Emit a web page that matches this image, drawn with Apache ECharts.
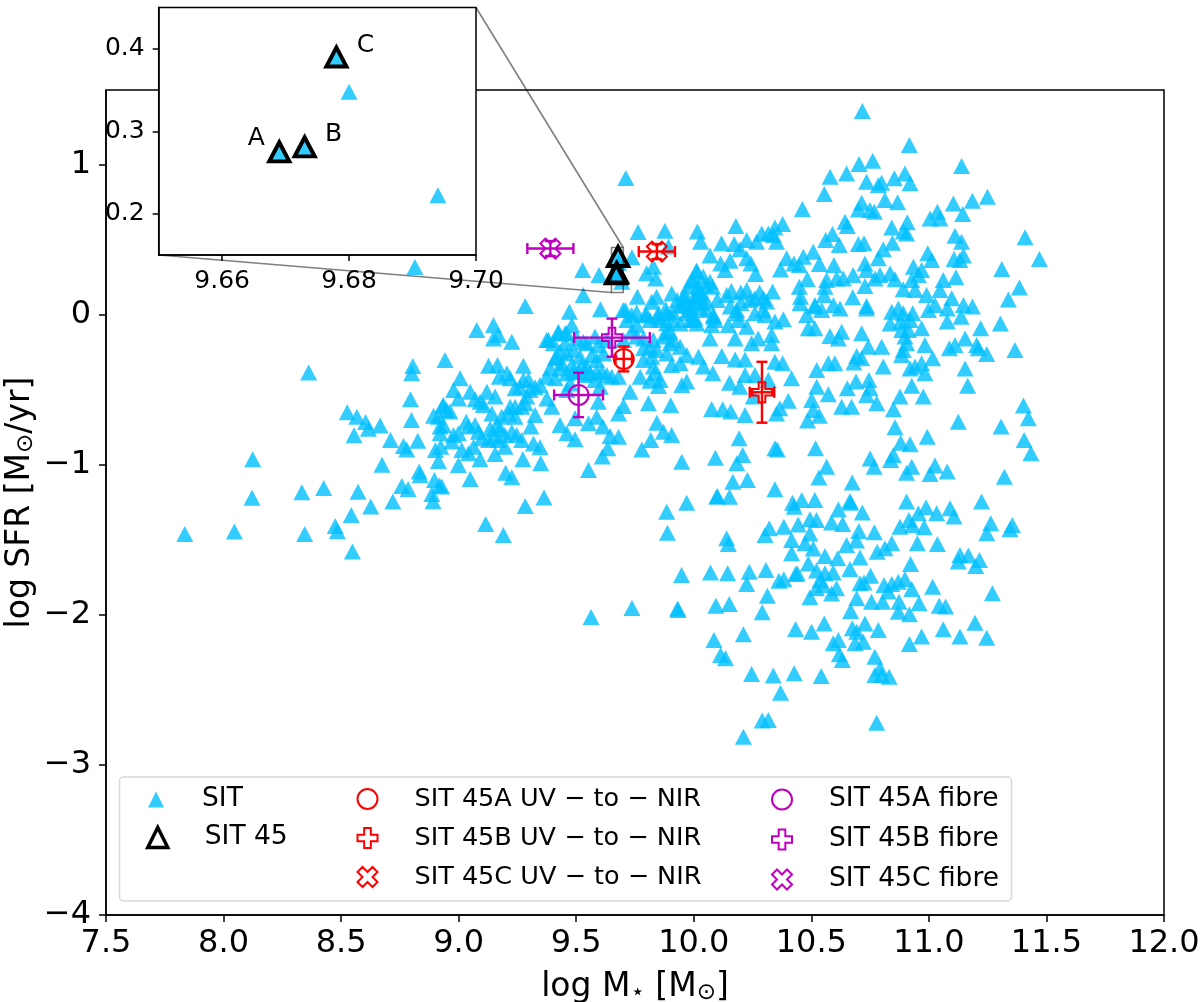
<!DOCTYPE html>
<html><head><meta charset="utf-8">
<style>html,body{margin:0;padding:0;background:#fff}#c{width:1200px;height:1002px}</style>
<script src="https://cdn.jsdelivr.net/npm/echarts@6/dist/echarts.min.js"></script>
</head><body><div id="c"></div>
<script>
const sitLowMass=[[7.835,-1.46],[8.046,-1.444],[8.124,-0.962],[8.121,-1.218],[8.362,-0.384],[8.333,-1.182],[8.426,-1.153],[8.345,-1.46],[8.572,-1.178],[8.626,-1.276],[8.543,-1.333],[8.475,-1.407],[8.484,-1.442],[8.548,-1.576],[8.72,-1.244],[8.674,-0.998],[8.758,-1.14],[8.785,-1.16],[8.832,-1.044],[8.836,-1.069],[8.897,-1.1],[8.918,-1.136],[8.886,-1.193],[8.891,-1.242],[8.526,-0.649],[8.567,-0.678],[8.604,-0.713],[8.616,-0.758],[8.666,-0.736],[8.555,-0.802],[8.71,-0.833],[8.765,-0.873],[8.779,-0.896],[8.826,-0.838],[8.805,-0.34],[8.8,-0.389],[8.795,-0.562],[8.799,-0.7],[8.914,-0.973],[8.901,-0.9],[8.924,-0.878],[8.921,-0.744],[8.921,-0.789],[8.914,-0.678],[8.932,-0.607],[8.893,-0.671],[8.971,-0.844],[9.013,-0.9],[8.814,0.32]];
const sitMidMass=[[9.283,0.06],[9.471,0.022],[9.603,0.038],[9.709,0.033],[9.757,0.016],[9.793,0],[9.85,0.011],[9.949,0.06],[9.077,-0.1],[9.148,-0.067],[9.169,-0.133],[9.148,-0.156],[9.226,-0.178],[8.942,-0.3],[9.127,-0.338],[9.165,-0.333],[9.205,-0.389],[9.173,-0.411],[9.219,-0.422],[9.275,-0.338],[9.006,-0.422],[8.978,-0.5],[9.049,-0.511],[8.999,-0.556],[9.12,-0.511],[9.155,-0.544],[9.07,-0.562],[9.105,-0.6],[8.935,-0.6],[8.963,-0.644],[9.219,-0.611],[9.141,-0.656],[9.261,-0.478],[9.297,-0.433],[9.325,-0.482],[9.29,-0.544],[9.268,-0.611],[9.24,-0.678],[9.325,-0.667],[9.307,-0.744],[9.032,-0.711],[9.07,-0.733],[9.162,-0.733],[9.176,-0.756],[8.935,-0.733],[8.978,-0.8],[8.999,-0.789],[9.098,-0.822],[9.063,-0.878],[9.148,-0.811],[9.197,-0.8],[9.247,-0.8],[9.268,-0.833],[9.318,-0.856],[9.346,-0.882],[9.197,-0.878],[9.155,-0.927],[9.042,-0.922],[9.091,-0.962],[8.999,-1],[9.273,-0.962],[9.349,-0.989],[9.2,-1.051],[9.226,-1.082],[9.049,-1.093],[9.363,-1.216],[9.283,-1.273],[9.115,-1.393],[9.19,-1.467],[8.928,-1.144],[9.424,-0.122],[9.382,-0.167],[9.453,-0.122],[9.481,-0.067],[9.502,-0.156],[9.53,-0.178],[9.431,-0.244],[9.488,-0.233],[9.41,-0.289],[9.389,-0.356],[9.438,-0.322],[9.481,-0.333],[9.524,-0.333],[9.375,-0.411],[9.41,-0.422],[9.46,-0.389],[9.509,-0.378],[9.559,-0.389],[9.587,-0.3],[9.609,-0.378],[9.651,-0.411],[9.594,-0.2],[9.63,-0.167],[9.58,-0.433],[9.602,-0.478],[9.474,-0.456],[9.375,-0.556],[9.396,-0.611],[9.46,-0.5],[9.594,-0.578],[9.431,-0.733],[9.495,-0.689],[9.46,-0.789],[9.495,-0.829],[9.552,-0.722],[9.587,-0.678],[9.613,-0.744],[9.644,-0.807],[9.68,-0.811],[9.634,-0.889],[9.611,-0.944],[9.552,-1.033],[9.68,-0.656],[9.701,-0.607],[9.729,-0.511],[9.779,-0.896],[9.817,-0.833],[9.807,-0.589],[9.843,-0.718],[9.871,-0.778],[9.906,-0.8],[9.902,-0.602],[9.949,-0.978],[10.092,-0.951],[10.076,-0.627],[10.123,-0.629],[10.157,-0.644],[10.152,-0.451],[10.119,-0.273],[10.176,-0.296],[10.081,-0.389],[10.041,-0.344],[9.97,-0.444],[9.949,-0.467],[9.85,-0.473],[9.814,-0.438],[9.835,-0.389],[9.772,-0.411],[9.906,-0.333],[9.942,-0.322],[9.821,-0.278],[9.814,-0.211],[9.786,-0.222],[9.899,-0.189],[9.885,-0.122],[9.942,-0.211],[9.97,-0.267],[10.02,-0.278],[10.069,-0.156],[9.996,-0.033],[9.97,0.011],[9.942,-0.056],[10.091,-0.033],[10.147,-0.067],[10.176,-0.156],[10.166,-1.111],[10.098,-1.211],[10.152,-1.211],[9.97,-1.251],[9.885,-1.311],[9.888,-1.451],[10.14,-1.489],[10.183,-0.989],[10.193,-0.822],[9.814,-0.033],[9.757,-0.067],[9.715,-0.033],[9.736,-0.111],[9.374,-0.166],[9.424,-0.111],[9.459,-0.122],[9.7,0.033],[9.736,0],[9.8,0],[9.849,-0.011],[9.885,-0.055],[9.899,-0.111],[9.527,0.3],[9.597,0.267],[9.737,0.385],[9.53,0.133],[9.76,0.122],[9.711,0.913],[9.763,0.553],[9.563,-2.013],[9.737,-1.953],[9.933,-1.967],[9.669,0.275],[9.673,0.281],[9.678,0.39],[9.68,0.348],[9.694,0.2225]];
const sitCore=[[9.183,-0.678],[9.212,-0.656],[9.24,-0.611],[9.283,-0.589],[9.304,-0.5],[9.24,-0.489],[9.275,-0.433],[9.346,-0.467],[9.091,-0.578],[8.949,-0.633],[9.042,-0.744],[9.084,-0.778],[9.134,-0.756],[9.169,-0.833],[9.226,-0.778],[9.127,-0.833],[9.403,-0.189],[9.453,-0.189],[9.417,-0.278],[9.46,-0.256],[9.516,-0.278],[9.545,-0.344],[9.431,-0.356],[9.488,-0.378],[9.538,-0.4],[9.587,-0.378],[9.63,-0.4],[9.68,-0.411],[9.566,-0.267],[9.616,-0.256],[9.545,-0.189],[9.58,-0.144],[9.701,-0.167],[9.757,-0.144],[9.786,-0.156],[9.828,-0.167],[9.871,-0.144],[9.913,-0.167],[9.857,-0.033],[9.885,0.011],[9.913,-0.033],[9.984,0.033],[10.027,0.044],[10.055,0.033],[10.084,-0.011],[10.155,0.056],[10.183,0.011],[9.984,-0.033],[10.013,-0.056],[9.786,-0.3],[9.843,-0.233],[9.885,-0.256],[9.828,-0.344],[9.857,-0.433],[9.941,0.067],[9.984,0.056],[10.026,0.078],[9.963,0.134],[10.012,0.122],[10.005,-0.022],[10.083,0],[10.076,-0.066],[10.182,0.034],[10.19,-0.033],[10.012,0.289],[9.991,0.233],[10.04,0.256],[10.019,0.189],[9.955,0.12],[9.975,0.19],[10.03,0.15],[10.05,0.2],[10,0.1],[9.93,0.1],[10.1,0.1],[10.16,0.16],[10.2,0.15],[10.28,0.15],[10.31,0.09],[10.2,0.08],[9.88,0.04],[9.91,0.02]];
const sitUpper=[[10.717,1.36],[10.703,1.007],[10.761,1.029],[10.58,0.922],[10.65,0.944],[10.735,0.889],[10.785,0.867],[10.555,0.807],[10.462,0.707],[10.714,0.749],[10.7,0.704],[10.749,0.7],[10.768,0.689],[10.643,0.622],[10.653,0.593],[10.378,0.607],[10.345,0.584],[10.317,0.544],[10.289,0.544],[10.338,0.533],[10.179,0.593],[10.015,0.556],[10.029,0.489],[9.877,0.562],[10.118,0.478],[10.172,0.473],[10.225,0.5],[10.196,0.438],[10.267,0.489],[10.352,0.489],[10.561,0.5],[10.59,0.54],[10.619,0.467],[10.7,0.473],[10.724,0.478],[10.508,0.422],[10.466,0.389],[10.395,0.378],[10.369,0.304],[10.426,0.344],[10.449,0.333],[10.534,0.34],[10.596,0.333],[10.678,0.267],[10.728,0.344],[10.735,0.3],[10.785,0.378],[10.771,0.244],[10.728,0.193],[10.636,0.244],[10.608,0.244],[10.565,0.233],[10.483,0.238],[10.449,0.189],[10.454,0.122],[10.558,0.189],[10.554,0.133],[10.676,0.118],[10.594,0.067],[10.735,0.06],[10.515,0.067],[10.335,0.156],[10.296,0.111],[10.26,0.111],[10.225,0.167],[10.239,0.1],[10.14,0.133],[10.069,0.396],[10.114,0.344],[10.154,0.362],[10.133,0.3],[10.225,0.378],[10.243,0.344],[10.263,0.273],[10.012,0.296],[9.998,0.229],[10.069,0.222],[10.08,0.189],[9.906,0.144],[9.842,0.122],[9.821,0.089],[9.799,0.278],[9.838,0.244],[9.828,0.322],[9.892,0.456],[10.019,0.167],[10.026,0.122],[9.969,0.089],[10.055,0.089],[10.917,1.133],[10.898,0.944],[10.92,0.878],[11.139,0.993],[10.799,0.882],[10.853,0.911],[11.104,0.744],[11.185,0.762],[11.249,0.789],[11.144,0.673],[11.036,0.689],[11.005,0.644],[11.047,0.644],[10.813,0.767],[10.867,0.751],[10.908,0.618],[10.842,0.584],[10.891,0.556],[10.905,0.544],[10.845,0.482],[11.111,0.529],[11.139,0.489],[11.409,0.518],[10.995,0.411],[11.012,0.367],[11.147,0.396],[11.107,0.373],[11.132,0.367],[11.47,0.373],[11.31,0.307],[11.385,0.184],[11.338,0.104],[10.806,0.438],[10.792,0.267],[10.835,0.278],[10.856,0.238],[10.891,0.171],[10.934,0.322],[10.969,0.3],[10.955,0.267],[10.927,0.233],[10.941,0.167],[11.061,0.233],[11.115,0.251],[11.047,0.167],[10.99,0.133],[11.097,0.111]];
const sitRight=[[10.735,0.044],[10.842,0.022],[10.87,0.044],[10.891,0.011],[10.931,0.011],[10.998,0.033],[11.026,0.067],[11.078,0.044],[11.147,0.067],[11.185,0.056],[11.137,-0.011],[11.078,-0.044],[10.835,-0.056],[10.88,-0.044],[10.92,-0.033],[10.884,-0.1],[10.913,-0.1],[10.969,-0.089],[11.22,-0.089],[11.304,-0.056],[10.714,-0.122],[10.898,-0.144],[10.905,-0.189],[10.983,-0.2],[11.154,-0.156],[11.111,-0.2],[11.087,-0.222],[11.203,-0.2],[11.246,-0.26],[11.21,-0.222],[11.366,-0.233],[10.742,-0.211],[10.799,-0.211],[10.884,-0.267],[10.891,-0.233],[11.016,-0.289],[10.714,-0.289],[10.806,-0.344],[10.969,-0.322],[10.941,-0.344],[10.92,-0.356],[10.983,-0.389],[11.154,-0.356],[11.165,-0.471],[10.927,-0.471],[10.745,-0.433],[10.75,-0.489],[10.735,-0.533],[10.976,-0.544],[10.877,-0.544],[10.778,-0.589],[10.849,-0.629],[11.402,-0.604],[11.423,-0.689],[11.125,-0.711],[11.307,-0.744],[10.856,-0.749],[10.993,-0.811],[10.88,-0.851],[10.92,-0.862],[11.405,-0.833],[11.434,-0.922],[10.75,-0.956],[10.767,-1.011],[10.849,-0.933],[10.837,-0.967],[10.927,-1.011],[10.905,-1.051],[11.026,-1.004],[11.005,-1.06],[11.078,-1.044],[11.321,-1.078],[10.296,0.033],[10.26,0.011],[10.303,0],[10.345,-0.044],[10.381,-0.029],[10.452,0.078],[10.515,0.056],[10.622,0.044],[10.48,0],[10.544,0.033],[10.487,-0.089],[10.515,-0.089],[10.225,-0.078],[10.246,-0.189],[10.331,-0.133],[10.331,-0.189],[10.274,-0.156],[10.579,-0.14],[10.615,-0.156],[10.629,-0.111],[10.693,-0.273],[10.681,-0.316],[10.572,-0.322],[10.6,-0.322],[10.523,-0.367],[10.218,-0.296],[10.345,-0.311],[10.378,-0.322],[10.218,-0.4],[10.26,-0.4],[10.317,-0.433],[10.416,-0.422],[10.196,-0.478],[10.523,-0.478],[10.501,-0.567],[10.572,-0.529],[10.402,-0.571],[10.366,-0.622],[10.352,-0.656],[10.253,-0.544],[10.218,-0.667],[10.534,-0.671],[10.508,-0.633],[10.484,-0.704],[10.629,-0.611],[10.671,-0.611],[10.653,-0.489],[10.69,-0.444],[10.345,-0.889],[10.355,-0.896],[10.518,-0.889],[10.208,-0.933],[10.565,-1.011],[10.532,-1.084],[10.674,-1.116],[10.228,-1.1],[10.345,-1.162]];
const sitQuenched=[[10.1,-1.207],[10.42,-1.251],[10.459,-1.233],[10.427,-1.278],[10.515,-1.233],[10.667,-1.251],[10.664,-1.24],[10.615,-1.296],[10.717,-1.316],[10.303,-1.467],[10.321,-1.422],[10.383,-1.411],[10.444,-1.396],[10.494,-1.362],[10.522,-1.367],[10.586,-1.384],[10.633,-1.393],[10.768,-1.449],[10.702,-1.44],[10.692,-1.504],[10.494,-1.456],[10.473,-1.522],[10.416,-1.5],[10.416,-1.589],[10.147,-1.527],[10.65,-1.533],[10.508,-1.556],[10.558,-1.607],[10.612,-1.622],[10.78,-1.578],[10.707,-1.616],[10.487,-1.656],[9.948,-1.733],[10.071,-1.716],[10.144,-1.722],[10.236,-1.711],[10.307,-1.7],[10.225,-1.793],[10.362,-1.771],[10.383,-1.762],[10.433,-1.727],[10.44,-1.722],[10.522,-1.704],[10.558,-1.722],[10.593,-1.716],[10.664,-1.693],[10.752,-1.738],[10.707,-1.789],[10.724,-1.784],[10.537,-1.767],[10.551,-1.8],[10.607,-1.822],[10.522,-1.822],[10.586,-1.856],[10.494,-1.882],[10.313,-1.871],[10.693,-1.889],[10.756,-1.911],[10.667,-1.973],[10.291,-1.982],[10.094,-1.938],[10.151,-1.927],[9.931,-1.956],[10.728,-2.056],[10.785,-2.1],[10.555,-2.056],[10.674,-2.089],[10.693,-2.111],[10.433,-2.093],[10.501,-2.111],[10.211,-2.129],[10.086,-2.167],[10.114,-2.267],[10.135,-2.289],[10.593,-2.189],[10.615,-2.167],[10.721,-2.178],[10.686,-2.189],[10.619,-2.262],[10.632,-2.3],[10.77,-2.278],[10.792,-2.356],[10.77,-2.4],[10.799,-2.4],[10.831,-2.411],[10.246,-2.393],[10.338,-2.404],[10.427,-2.389],[10.542,-2.407],[10.369,-2.518],[10.291,-2.704],[10.317,-2.7],[10.211,-2.811],[10.778,-2.718],[10.905,-1.244],[10.955,-1.322],[10.988,-1.282],[11.033,-1.322],[11.09,-1.289],[11.107,-1.344],[11.224,-1.244],[11.263,-1.389],[11.246,-1.455],[11.355,-1.4],[11.345,-1.429],[10.915,-1.367],[10.877,-1.411],[10.93,-1.4],[10.98,-1.415],[10.951,-1.522],[11.036,-1.526],[10.842,-1.522],[10.813,-1.555],[11.132,-1.6],[11.125,-1.644],[11.168,-1.604],[11.215,-1.633],[11.199,-1.673],[10.922,-1.66],[10.898,-1.76],[10.87,-1.778],[10.842,-1.793],[10.809,-1.8],[10.927,-1.826],[10.827,-1.844],[11.016,-1.811],[11.27,-1.855],[10.803,-1.911],[10.873,-1.911],[10.958,-1.922],[11.044,-1.938],[11.071,-1.944],[10.87,-1.978],[10.917,-1.995],[11.196,-2.051],[11.061,-2.095],[11.132,-2.144],[11.246,-2.151],[10.969,-2.144],[10.917,-2.193]];
const sit45=[[9.669,0.275,'A'],[9.673,0.281,'B'],[9.678,0.39,'C']];
// [mass, sfr, massErr, sfrErr]
const uvA=[9.702,-0.293,0.035,0.083], uvB=[10.29,-0.515,0.052,0.203], uvC=[9.843,0.423,0.077,0.05];
const fibreA=[9.51,-0.533,0.104,0.148], fibreB=[9.652,-0.151,0.161,0.127], fibreC=[9.39,0.443,0.098,0.05];
const xTicks=[7.5,8,8.5,9,9.5,10,10.5,11,11.5,12];
const yTicks=[-4,-3,-2,-1,0,1];
const insetXTicks=[9.66,9.68,9.70];
const insetYTicks=[0.2,0.3,0.4];
const insetRange={x0:9.65,x1:9.70,y0:0.15,y1:0.45};

const FONT='DejaVu Sans';
const BLUE='#00BFFF', RED='#FF0000', MAG='#BF00BF';
const sitAll=[].concat(sitLowMass,sitMidMass,sitCore,sitUpper,sitRight,sitQuenched);
const PLUS='path://M1,0H2V1H3V2H2V3H1V2H0V1H1Z';
const CROSS='path://M1,0L2,1L3,0L4,1L3,2L4,3L3,4L2,3L1,4L0,3L1,2L0,1Z';

function errSeries(name,p,color){
  return {type:'custom',xAxisIndex:0,yAxisIndex:0,z:4,silent:true,data:[p],tooltip:{show:false},
    encode:{x:0,y:1},clip:false,legendHoverLink:false,
    renderItem(params,api){
      const x=api.value(0),y=api.value(1),ex=api.value(2),ey=api.value(3);
      const a=api.coord([x-ex,y]),b=api.coord([x+ex,y]),c=api.coord([x,y-ey]),d=api.coord([x,y+ey]);
      const st={stroke:color,lineWidth:2.4,fill:null},cap=5.5;
      const L=(x1,y1,x2,y2)=>({type:'line',shape:{x1,y1,x2,y2},style:st});
      return {type:'group',children:[L(a[0],a[1],b[0],b[1]),L(c[0],c[1],d[0],d[1]),
        L(a[0],a[1]-cap,a[0],a[1]+cap),L(b[0],b[1]-cap,b[0],b[1]+cap),
        L(c[0]-cap,c[1],c[0]+cap,c[1]),L(d[0]-cap,d[1],d[0]+cap,d[1])]};
    }};
}
function markerSeries(name,p,symbol,color){
  return {name,type:'scatter',xAxisIndex:0,yAxisIndex:0,z:5,symbol,symbolSize:20,silent:true,
    data:[[p[0],p[1]]],itemStyle:{color:'rgba(255,255,255,0)',borderColor:color,borderWidth:2,opacity:1}};
}
function leg(names,left,top,size,gap,pad,bw,fs){
  return {show:true,orient:'vertical',left,top,itemWidth:size,itemHeight:size,itemGap:gap,padding:0,
    data:names,selectedMode:false,textStyle:{fontFamily:FONT,fontSize:fs,color:'#000',padding:[0,0,0,pad]},itemStyle:{borderWidth:bw},z:9,symbolKeepAspect:true};
}
const names={uvA:'SIT 45A UV − to − NIR',uvB:'SIT 45B UV − to − NIR',uvC:'SIT 45C UV − to − NIR',fA:'SIT 45A fibre',fB:'SIT 45B fibre',fC:'SIT 45C fibre'};
const fmtMinus=v=>String(v).replace('-','−');
const labelStyle={fontFamily:FONT,fontSize:32,color:'#000'};
const insetLabel={fontFamily:FONT,fontSize:25,color:'#000'};
const axisLine={show:true,onZero:false,lineStyle:{color:'#000',width:1.5}};
const rich={n:{fontFamily:FONT,fontSize:33,color:'#000'},s:{fontFamily:FONT,fontSize:23,color:'#000',padding:[13,0,0,0]}};

const chart=echarts.init(document.getElementById('c'),null,{renderer:'canvas'});
chart.setOption({
  animation:false,backgroundColor:'#fff',
  grid:[
    {left:106,top:90,width:1058,height:825,show:true,borderColor:'#000',borderWidth:1.5,backgroundColor:'#fff',outerBoundsMode:'none',z:0},
    {left:158.7,top:7.5,width:317.3,height:247.5,show:true,borderColor:'#000',borderWidth:1.5,backgroundColor:'#fff',outerBoundsMode:'none',z:6}
  ],
  xAxis:[
    {type:'value',gridIndex:0,min:7.5,max:12,splitLine:{show:false},axisLine,
     axisTick:{show:true,length:7,lineStyle:{color:'#000',width:1.5},customValues:xTicks},
     axisLabel:{customValues:xTicks,margin:13,formatter:v=>v.toFixed(1),...labelStyle,hideOverlap:false,showMinLabel:true,showMaxLabel:true},
     name:'{n|log M}{s|⋆}{n| [M}{s|⊙}{n|]}',nameLocation:'middle',nameGap:54,nameTextStyle:{rich},nameMoveOverlap:false},
    {type:'value',gridIndex:1,min:insetRange.x0,max:insetRange.x1,z:7,splitLine:{show:false},axisLine,
     axisTick:{show:true,length:6,lineStyle:{color:'#000',width:1.5},customValues:insetXTicks},
     axisLabel:{customValues:insetXTicks,margin:14,formatter:v=>v.toFixed(2),...insetLabel,showMaxLabel:true}}
  ],
  yAxis:[
    {type:'value',gridIndex:0,min:-4,max:1.5,splitLine:{show:false},axisLine,
     axisTick:{show:true,length:7,lineStyle:{color:'#000',width:1.5},customValues:yTicks},
     axisLabel:{customValues:yTicks,margin:15,padding:[6,0,0,0],formatter:fmtMinus,...labelStyle,hideOverlap:false,showMinLabel:true},
     name:'{n|log SFR [M}{s|⊙}{n|/yr]}',nameLocation:'middle',nameGap:68,nameTextStyle:{rich},nameMoveOverlap:false},
    {type:'value',gridIndex:1,min:insetRange.y0,max:insetRange.y1,z:7,splitLine:{show:false},axisLine,
     axisTick:{show:true,length:6,lineStyle:{color:'#000',width:1.5},customValues:insetYTicks},
     axisLabel:{customValues:insetYTicks,margin:14,padding:[5,0,0,0],formatter:v=>v.toFixed(1),...insetLabel}}
  ],
  legend:[
    leg(['SIT'],148,786,16,0,33,0,26.5),
    leg(['SIT 45'],146,824,20,0,32,3.5,26.5),
    leg([names.uvA,names.uvB,names.uvC],356.5,786,20,13,32,2,25.5),
    leg([names.fA,names.fB,names.fC],771,786,20,13,32,2,26.5)
  ],
  series:[
    {name:'SIT',type:'scatter',xAxisIndex:0,yAxisIndex:0,z:2,symbol:'triangle',symbolSize:[17,16],silent:true,
     data:sitAll,itemStyle:{color:BLUE,opacity:0.8}},
    {name:'SIT 45',type:'scatter',xAxisIndex:0,yAxisIndex:0,z:3,symbol:'triangle',symbolSize:[20,19],silent:true,
     data:sit45.map(d=>[d[0],d[1]]),itemStyle:{color:'rgba(0,0,0,0)',borderColor:'#000',borderWidth:4,opacity:1}},
    errSeries('e1',uvA,RED),errSeries('e2',uvB,RED),errSeries('e3',uvC,RED),
    errSeries('e4',fibreA,MAG),errSeries('e5',fibreB,MAG),errSeries('e6',fibreC,MAG),
    markerSeries(names.uvA,uvA,'circle',RED),markerSeries(names.uvB,uvB,PLUS,RED),markerSeries(names.uvC,uvC,CROSS,RED),
    markerSeries(names.fA,fibreA,'circle',MAG),markerSeries(names.fB,fibreB,PLUS,MAG),markerSeries(names.fC,fibreC,CROSS,MAG),
    {type:'scatter',xAxisIndex:1,yAxisIndex:1,z:7,symbol:'triangle',symbolSize:[17,16],silent:true,
     data:sitAll,itemStyle:{color:BLUE,opacity:0.8}},
    {type:'scatter',xAxisIndex:1,yAxisIndex:1,z:8,symbol:'triangle',symbolSize:[20,19],silent:true,
     data:sit45.map((d,i)=>({value:[d[0],d[1]],label:{show:true,formatter:d[2],position:'inside',
        offset:[[-23,-13],[29,-12],[29,-12]][i],...insetLabel}})),
     itemStyle:{color:'rgba(0,0,0,0)',borderColor:'#000',borderWidth:4,opacity:1}}
  ]
});
// zoom indicator: rectangle on the main axes and the two connectors to the inset
const main=v=>chart.convertToPixel({xAxisIndex:0,yAxisIndex:0},v);
const ins=v=>chart.convertToPixel({xAxisIndex:1,yAxisIndex:1},v);
const R=insetRange;
const rTL=main([R.x0,R.y1]),rBR=main([R.x1,R.y0]);
const gray={stroke:'rgba(0,0,0,0.5)',lineWidth:1.6,fill:null};
const a1=ins([R.x1,R.y1]),b1=main([R.x1,R.y1]),a2=ins([R.x0,R.y0]),b2=main([R.x0,R.y0]);
chart.setOption({graphic:[
  {type:'rect',z:1,silent:true,shape:{x:119.5,y:777,width:892,height:124,r:4},style:{fill:'rgba(255,255,255,0.8)',stroke:'#d8d8d8',lineWidth:1.5}},
  {type:'rect',z:4,silent:true,shape:{x:rTL[0],y:rTL[1],width:rBR[0]-rTL[0],height:rBR[1]-rTL[1]},style:gray},
  {type:'line',z:4,silent:true,shape:{x1:a1[0],y1:a1[1],x2:b1[0],y2:b1[1]},style:gray},
  {type:'line',z:4,silent:true,shape:{x1:a2[0],y1:a2[1],x2:b2[0],y2:b2[1]},style:gray}
]});
</script></body></html>
